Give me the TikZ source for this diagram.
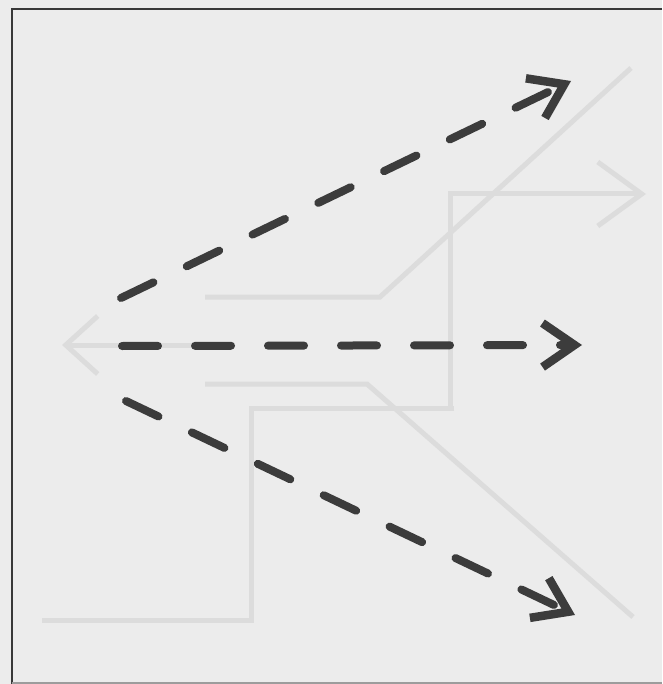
\documentclass[tikz,border=0pt]{standalone}
\usepackage{xcolor}
\usepackage{tikz}
\usetikzlibrary{arrows.meta}
\definecolor{paper}{HTML}{ECECEC}
\definecolor{ghost}{HTML}{DCDCDC}
\definecolor{ink}{HTML}{3C3C3C}
\definecolor{rule}{HTML}{383838}
\tikzset{
  flowarrow/.style={
    draw=ink, line width=8pt, line cap=round,
    dash pattern=on 36pt off 37pt,
    -{Straight Barb[length=32pt, width=44pt, line width=8.5pt]}
  },
  ghostline/.style={draw=ghost, line width=5pt},
  frameline/.style={draw=rule, line width=2pt},
}

\begin{document}
\begin{tikzpicture}[x=1pt, y=-1pt]
    \useasboundingbox (0,0) rectangle (662,684);
    \fill[paper] (0,0) rectangle (662,684);

    % faint lines showing through the paper
    \draw[ghostline, -{Straight Barb[length=32pt, width=58pt]}] (235,345) -- (62,345);
    \draw[ghostline] (205,297) -- (380,297) -- (631,68);
    \draw[ghostline, -{Straight Barb[length=44pt, width=64pt]}] (450,408) -- (450,194) -- (646,194);
    \draw[ghostline] (205,384) -- (367,384) -- (633,617);
    \draw[ghostline] (454,408) -- (251,408) -- (251,620) -- (42,620);

    % frame
    \draw[frameline] (11.5,684) -- (11.5,9) -- (662,9);
    \draw[draw=rule!50, line width=1.5pt] (11.5,683) -- (662,683);

    % end points of the three arrows
    \coordinate (upstart) at (121,298);
    \coordinate (upend) at (571,81);
    \coordinate (midstart) at (122,346);
    \coordinate (midend) at (582,345);
    \coordinate (lowstart) at (126,401);
    \coordinate (lowend) at (575,615);

    \draw[flowarrow] (upstart) -- (upend);
    \draw[flowarrow] (midstart) -- (midend);
    \draw[flowarrow] (lowstart) -- (lowend);
\end{tikzpicture}
\end{document}
